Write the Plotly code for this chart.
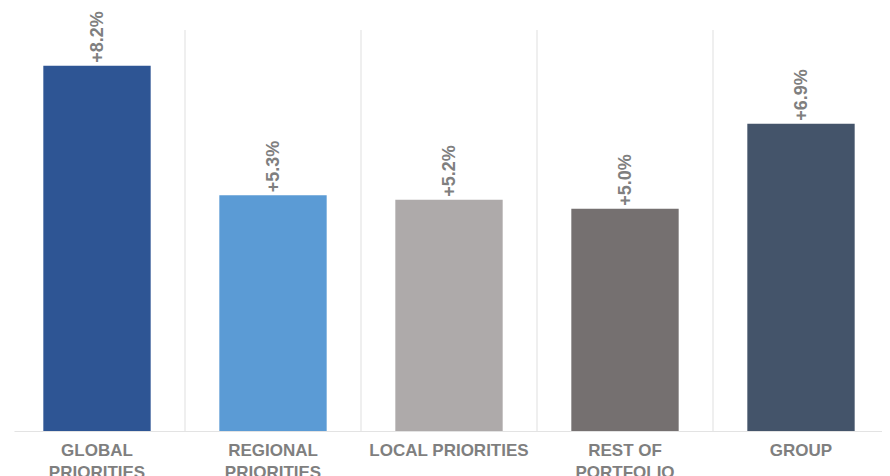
import plotly.graph_objects as go

categories = ["GLOBAL<br>PRIORITIES", "REGIONAL<br>PRIORITIES", "LOCAL PRIORITIES", "REST OF<br>PORTFOLIO", "GROUP"]
values = [8.2, 5.3, 5.2, 5.0, 6.9]
labels = ["+8.2%", "+5.3%", "+5.2%", "+5.0%", "+6.9%"]
colors = ["#2e5594", "#5b9bd5", "#aeaaaa", "#757070", "#44546a"]

fig = go.Figure(go.Bar(
    x=list(range(len(categories))),
    y=values,
    text=labels,
    textposition="outside",
    textangle=-90,
    textfont=dict(family="Liberation Sans", size=18, color="#7f7f7f", weight="bold"),
    cliponaxis=False,
    marker=dict(color=colors, line=dict(width=0)),
    width=0.61,
))

for i in range(len(categories)):
    fig.add_shape(type="line", xref="x", yref="y", x0=i + 0.5, x1=i + 0.5, y0=0, y1=9,
                  line=dict(color="#efefef", width=2), layer="below")

fig.add_shape(type="line", xref="x", yref="y", x0=-0.469, x1=4.5, y0=0, y1=0,
              line=dict(color="#e3e3e3", width=2), layer="above")

fig.update_layout(
    width=890, height=476,
    margin=dict(l=1, r=9, t=22, b=52),
    plot_bgcolor="white", paper_bgcolor="white",
    showlegend=False,
    xaxis=dict(range=[-0.5, 4.5], tickmode="array", tickvals=list(range(len(categories))),
               ticktext=categories, showgrid=False, showline=False, zeroline=False,
               tickfont=dict(family="Liberation Sans", size=17, color="#7f7f7f", weight="bold"),
               ticks="", ticklen=0, ticklabelstandoff=6),
    yaxis=dict(range=[0, 9], visible=False, showgrid=False, zeroline=False),
)

fig.write_html("out.html")
